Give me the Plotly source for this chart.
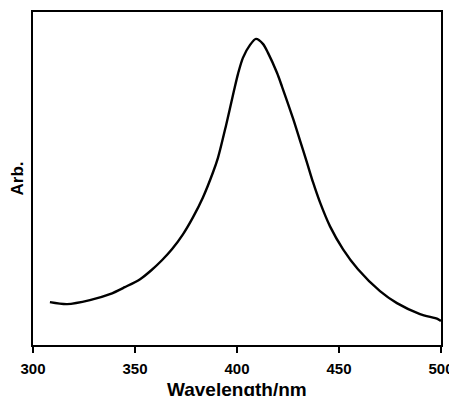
import plotly.graph_objects as go

wavelength_nm = [308.3, 316.7, 327.9, 337.7, 345.0, 352.5, 358.0, 363.2, 368.1, 373.5, 378.4,
                 383.3, 388.2, 390.7, 394.6, 398.5, 400.5, 402.9, 406.4, 409.3, 412.7, 415.2,
                 419.6, 422.1, 427.5, 430.9, 434.3, 437.3, 440.7, 445.6, 452.0, 459.3, 470.1,
                 478.4, 489.7, 498.5, 500.0]
absorbance_arb = [0.43, 0.41, 0.45, 0.51, 0.58, 0.66, 0.75, 0.85, 0.96, 1.11, 1.28,
                  1.48, 1.73, 1.88, 2.20, 2.55, 2.72, 2.88, 3.01, 3.07, 3.02, 2.93,
                  2.73, 2.59, 2.27, 2.05, 1.83, 1.63, 1.43, 1.19, 0.96, 0.76, 0.54,
                  0.42, 0.31, 0.26, 0.24]
x_ticks = [300, 350, 400, 450, 500]
x_title = "Wavelength/nm"
y_title = "Arb."

fig = go.Figure()
fig.add_trace(go.Scatter(x=wavelength_nm, y=absorbance_arb, mode="lines",
                         line=dict(color="black", width=2.4, shape="spline", smoothing=0.8),
                         showlegend=False))

# page body has an 8px default margin, so the figure is sized and offset to fit
fig.update_layout(
    width=449, height=388,
    margin=dict(l=25, r=16, t=4, b=51),
    paper_bgcolor="white", plot_bgcolor="white",
    font=dict(family="Liberation Sans, Arial, sans-serif", color="black"),
)
fig.update_xaxes(range=[300, 500], tickvals=x_ticks, ticks="outside", ticklen=6, tickwidth=1.5,
                 tickcolor="black", showline=True, linecolor="black", linewidth=1.5, mirror=True,
                 showgrid=False, zeroline=False, automargin=False, ticklabelstandoff=3,
                 tickfont=dict(size=15, family="Liberation Sans, Arial", weight="bold"))
fig.update_yaxes(range=[0, 3.34], showticklabels=False, ticks="", showline=True, linecolor="black",
                 linewidth=1.5, mirror=True, showgrid=False, zeroline=False, automargin=False,
                 title=dict(text="<b>" + y_title + "</b>", font=dict(size=17), standoff=8))
fig.add_annotation(text="<b>" + x_title + "</b>", xref="paper", yref="paper", x=0.5, y=-0.1,
                   xanchor="center", yanchor="top", showarrow=False, font=dict(size=19),
                   borderpad=0)

fig.write_html("out.html")
